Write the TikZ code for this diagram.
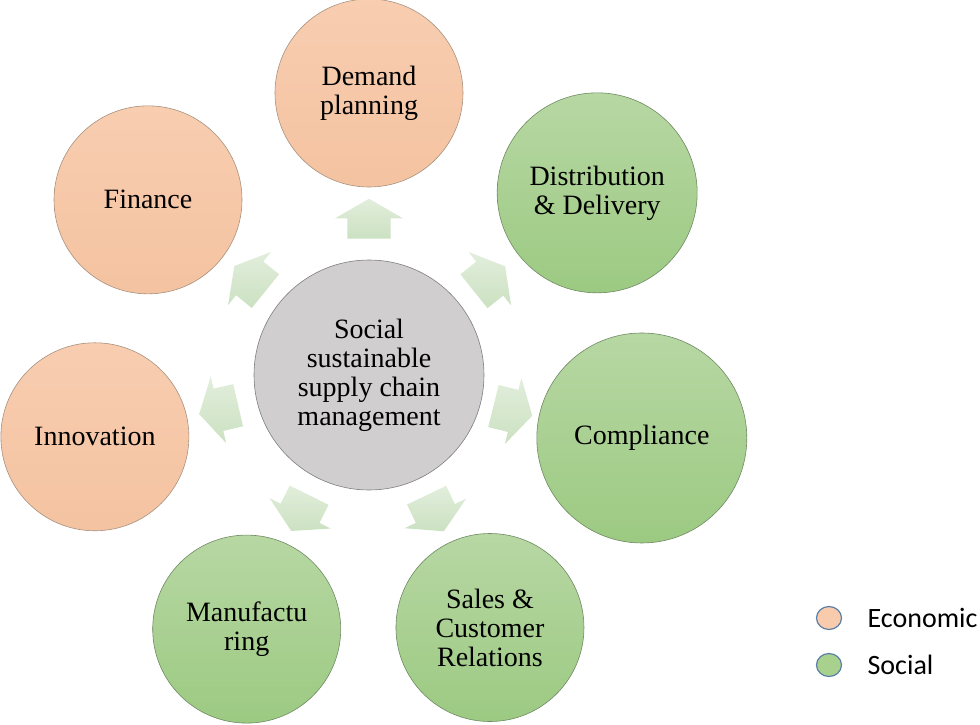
\documentclass[tikz,border=0pt]{standalone}
\usepackage{fontspec}
\setmainfont{Liberation Serif}
\newfontfamily\legendfont{Carlito}
\usetikzlibrary{positioning,shapes.geometric,shapes.arrows}
\definecolor{peachtop}{HTML}{F8CDB0}
\definecolor{peachbot}{HTML}{F4C3A1}
\definecolor{peachline}{HTML}{A8917F}
\definecolor{greentop}{HTML}{B7D7A3}
\definecolor{greenbot}{HTML}{9CCA82}
\definecolor{greenline}{HTML}{6F8A62}
\definecolor{hubfill}{HTML}{D0CECE}
\definecolor{hubline}{HTML}{7F7F7F}
\definecolor{spoketop}{HTML}{E2EEDC}
\definecolor{spokebot}{HTML}{CBE1C1}
\definecolor{legline}{HTML}{5B7FA6}
\definecolor{legpeach}{HTML}{F8CBAD}
\definecolor{leggreen}{HTML}{A9D18E}

\begin{document}
\begin{tikzpicture}[x=1pt,y=1pt,
  base/.style={circle, inner sep=0pt, align=center, line width=0.6pt,
    font=\fontsize{28}{29}\selectfont},
  econ/.style={base, draw=peachline, top color=peachtop, bottom color=peachbot},
  soc/.style={base, draw=greenline, top color=greentop, bottom color=greenbot},
  hub/.style={base, draw=hubline, fill=hubfill, minimum size=230pt},
  spoke/.style={single arrow, draw=none, inner xsep=0pt, inner ysep=21.5pt,
    minimum height=40pt,
    single arrow head extend=12.5pt, single arrow head indent=0pt,
    single arrow tip angle=120, top color=spoketop, bottom color=spokebot},
  legdot/.style={ellipse, draw=legline, line width=1.2pt, inner sep=0pt,
    minimum width=25pt, minimum height=23pt},
  legtxt/.style={font=\legendfont\fontsize{28}{30}\selectfont}]
\useasboundingbox (-369,-349) rectangle (611,375);

% hub
\node[hub] (hub) at (0,0) {Social\\sustainable\\supply chain\\management};

% outer circles
\foreach \nm/\ang/\dist/\sz/\kind/\txt in {
  dem/90/282/188/econ/{Demand\\planning},
  dis/38.6/292/200/soc/{Distribution\\\& Delivery},
  com/347/280/210/soc/{Compliance},
  sal/295.6/280/188/soc/{Sales \&\\Customer\\Relations},
  man/244.3/282/188/soc/{Manufactu\\ring},
  inn/192.7/281/188/econ/{Innovation},
  fin/141.6/282/188/econ/{Finance}}
  \node[\kind, minimum size=\sz pt] (\nm) at (\ang:\dist) {\txt};

% block arrows
\foreach \nm/\ang/\dist in {dem/90/150, dis/38.6/148, com/346/142, sal/295.6/147,
  man/243.5/148, inn/193/148, fin/141/147}
  \node[spoke, rotate=\ang] (arr\nm) at (\ang:\dist) {};

% legend
\node[legdot, fill=legpeach] (legeco) at (460,-243) {};
\node[legdot, fill=leggreen] (legsoc) at (460,-290) {};
\node[legtxt, anchor=west, right=22pt of legeco] (legecotxt) {Economic};
\node[legtxt, anchor=west, right=22pt of legsoc] (legsoctxt) {Social};
\end{tikzpicture}
\end{document}
